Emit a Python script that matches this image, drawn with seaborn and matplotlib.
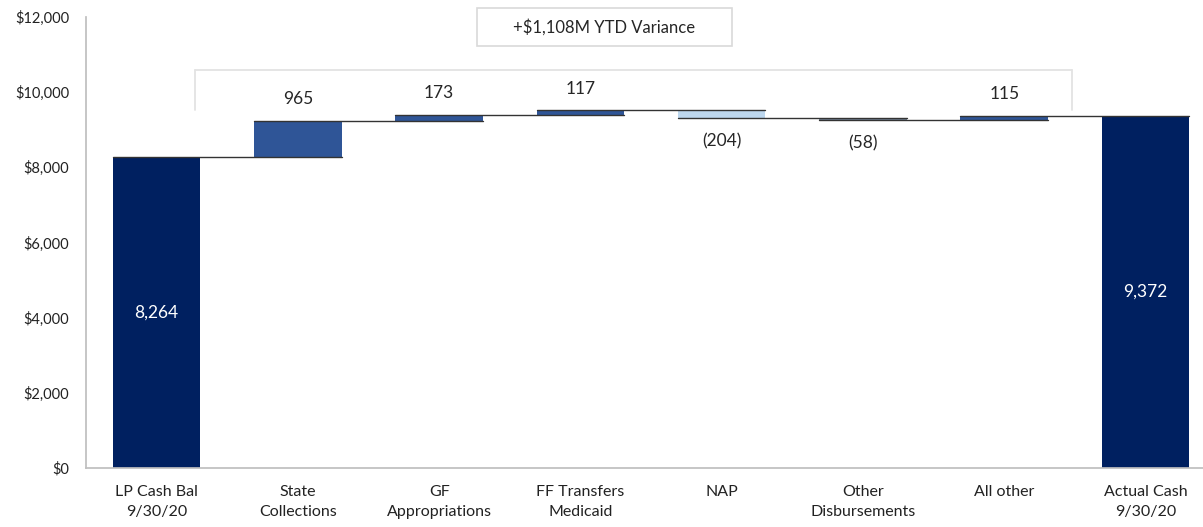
import numpy as np
import pandas as pd
import matplotlib.pyplot as plt
import matplotlib.patches as mpatches
import seaborn as sns

# Waterfall data ($M)
categories = ["LP Cash Bal\n9/30/20", "State\nCollections", "GF\nAppropriations",
              "FF Transfers\nMedicaid", "NAP", "Other\nDisbursements", "All other",
              "Actual Cash\n9/30/20"]
start_balance = 8264
changes = [965, 173, 117, -204, -58, 115]
end_balance = 9372
bar_colors = ["#002060", "#2F5597", "#2F5597", "#2F5597", "#BDD7EE", "#75859A",
              "#2F5597", "#002060"]
variance_text = "+$1,108M YTD Variance"

# running totals -> bottoms and heights
levels = np.concatenate([[start_balance], start_balance + np.cumsum(changes)])
bottoms = [0] + [min(levels[i], levels[i + 1]) for i in range(len(changes))] + [0]
heights = [start_balance] + [abs(c) for c in changes] + [end_balance]
df = pd.DataFrame({"cat": categories, "height": heights, "bottom": bottoms})

sns.set_theme(style="white")
plt.rcParams["font.family"] = ["Lato", "DejaVu Sans"]

fig = plt.figure(figsize=(12.03, 5.27), dpi=100)
ax = fig.add_axes([0.0715, 0.112, 0.93, 0.856])

W = 0.62
sns.barplot(data=df, x="cat", y="height", hue="cat", palette=bar_colors,
            width=W, legend=False, ax=ax, saturation=1, linewidth=0)

# float the bars onto their running totals
for i, cont in enumerate(ax.containers):
    for p in cont.patches:
        p.set_y(df["bottom"].iloc[i])
        p.set_height(df["height"].iloc[i])

# connectors
for i in range(len(levels)):
    ax.plot([i - W / 2, i + 1 + W / 2], [levels[i], levels[i]], color="#333333",
            lw=1.0, zorder=1)

# value labels
ax.text(0, start_balance / 2, f"{start_balance:,}", ha="center", va="center",
        color="white", fontsize=12.5)
ax.text(len(categories) - 1, end_balance / 2, f"{end_balance:,}", ha="center",
        va="center", color="white", fontsize=12.5)
for i, c in enumerate(changes):
    x = i + 1
    if c >= 0:
        ax.text(x, levels[i + 1] + 360, f"{c:,}", ha="center", va="bottom", fontsize=12.5)
    else:
        ax.text(x, levels[i + 1] - 420, f"({abs(c):,})", ha="center", va="top", fontsize=12.5)

# bracket over the variance bars
brk = "#E3E3E3"
ax.plot([0.27, 6.48], [10590, 10590], color=brk, lw=1.3, zorder=0)
ax.plot([0.27, 0.27], [10590, 9520], color=brk, lw=1.3, zorder=0)
ax.plot([6.48, 6.48], [10590, 9520], color=brk, lw=1.3, zorder=0)

# variance box
ax.add_patch(mpatches.Rectangle((2.27, 11230), 1.80, 1010, facecolor="white",
                                edgecolor="#D9D9D9", lw=1.2, clip_on=False, zorder=3))
ax.text(3.17, 11735, variance_text, ha="center", va="center", fontsize=12,
        zorder=4)

ax.set_ylim(0, 12000)
ax.set_xlim(-0.5, 7.42)
ax.set_yticks(range(0, 12001, 2000))
ax.set_yticklabels([f"${v:,}" for v in range(0, 12001, 2000)])
ax.set_xlabel("")
ax.set_ylabel("")
ax.tick_params(axis="both", length=0, colors="#222222")
ax.tick_params(axis="y", pad=12, labelsize=10.5)
ax.tick_params(axis="x", pad=12, labelsize=11.5)
for lbl in ax.get_xticklabels():
    lbl.set_linespacing(1.55)
sns.despine(ax=ax, top=True, right=True)
ax.spines["left"].set_color("#BFBFBF")
ax.spines["bottom"].set_color("#BFBFBF")

fig.savefig("out.png", dpi=100)
